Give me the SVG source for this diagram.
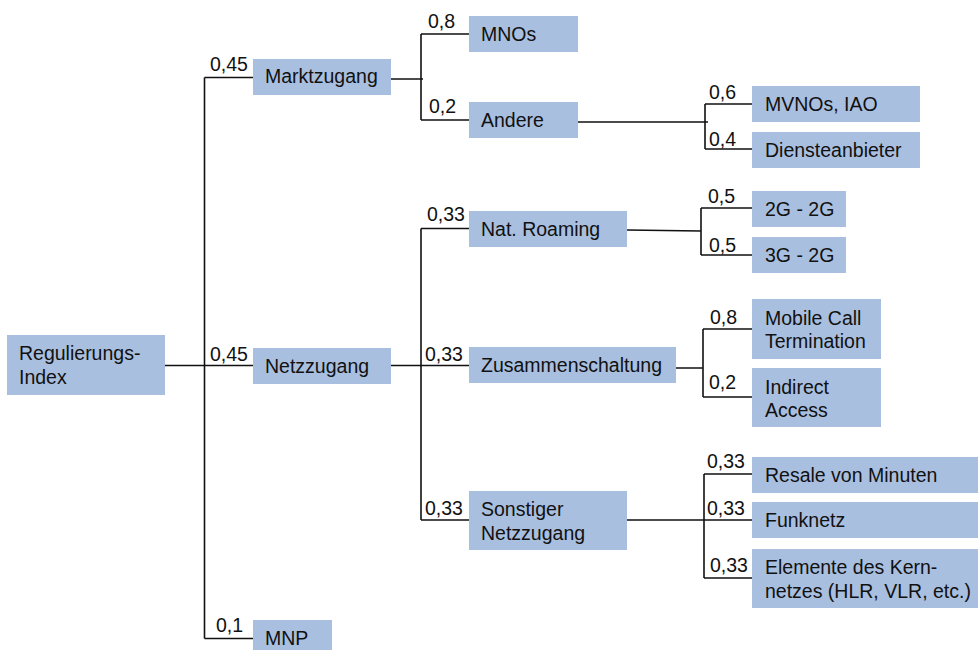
<svg xmlns="http://www.w3.org/2000/svg" width="978" height="650" viewBox="0 0 978 650">
<style>
.b{fill:#a9bfdf}
text{font-family:"Liberation Sans",Arial,sans-serif;font-size:19.5px;fill:#111}
.c{fill:none;stroke:#111;stroke-width:1.6}
</style>
<rect width="978" height="650" fill="#fff"/>
<g id="connectors" class="c">
<path d="M165,365.5H253M204.5,77.5V638.5M204.5,77.5H253M204.5,638.5H253"/>
<path d="M391,79H423M421,34V120M421,34H469M421,120H469"/>
<path d="M578,122H708M705,104V149M705,104H752M705,149H752"/>
<path d="M391,365.5H469M421,228.5V520M421,228.5H469M421,520H469"/>
<path d="M627,230L701,231M701,208V255M701,208H752M701,255H752"/>
<path d="M676,368H703M703,329V397M703,329H752M703,397H752"/>
<path d="M627,520H752M704,474V578M704,474H752M704,578H752"/>
</g>
<g id="weights">
<text x="210" y="71">0,45</text>
<text x="210" y="361">0,45</text>
<text x="216" y="632">0,1</text>
<text x="428" y="28">0,8</text>
<text x="429" y="113">0,2</text>
<text x="427" y="221">0,33</text>
<text x="425" y="361">0,33</text>
<text x="425" y="515">0,33</text>
<text x="709" y="99">0,6</text>
<text x="709" y="146">0,4</text>
<text x="708" y="203">0,5</text>
<text x="709" y="252">0,5</text>
<text x="710" y="324">0,8</text>
<text x="709" y="389">0,2</text>
<text x="707" y="468">0,33</text>
<text x="707" y="515">0,33</text>
<text x="710" y="572">0,33</text>
</g>
<g id="n-root"><rect class="b" x="7" y="335" width="158" height="60"/><text x="19" y="360">Regulierungs-</text><text x="19" y="384">Index</text></g>
<g id="n-markt"><rect class="b" x="253" y="59" width="138" height="36"/><text x="265" y="83">Marktzugang</text></g>
<g id="n-netz"><rect class="b" x="253" y="348" width="138" height="36"/><text x="265" y="373">Netzzugang</text></g>
<g id="n-mnp"><rect class="b" x="253" y="620" width="79" height="30"/><text x="265" y="645">MNP</text></g>
<g id="n-mnos"><rect class="b" x="469" y="16" width="109" height="36"/><text x="481" y="41">MNOs</text></g>
<g id="n-andere"><rect class="b" x="469" y="102" width="109" height="36"/><text x="481" y="127">Andere</text></g>
<g id="n-mvnos"><rect class="b" x="752" y="86" width="168" height="36"/><text x="765" y="111">MVNOs, IAO</text></g>
<g id="n-dienste"><rect class="b" x="752" y="132" width="168" height="36"/><text x="765" y="157">Diensteanbieter</text></g>
<g id="n-roaming"><rect class="b" x="469" y="211" width="158" height="36"/><text x="481" y="236">Nat. Roaming</text></g>
<g id="n-2g2g"><rect class="b" x="752" y="191" width="94" height="36"/><text x="765" y="216">2G - 2G</text></g>
<g id="n-3g2g"><rect class="b" x="752" y="237" width="94" height="36"/><text x="765" y="262">3G - 2G</text></g>
<g id="n-zus"><rect class="b" x="469" y="347" width="207" height="36"/><text x="481" y="372">Zusammenschaltung</text></g>
<g id="n-mct"><rect class="b" x="752" y="299" width="129" height="60"/><text x="765" y="325">Mobile Call</text><text x="765" y="348">Termination</text></g>
<g id="n-ia"><rect class="b" x="752" y="368" width="129" height="59"/><text x="765" y="394">Indirect</text><text x="765" y="417">Access</text></g>
<g id="n-sonst"><rect class="b" x="469" y="491" width="158" height="59"/><text x="481" y="516">Sonstiger</text><text x="481" y="540">Netzzugang</text></g>
<g id="n-resale"><rect class="b" x="752" y="457" width="226" height="36"/><text x="765" y="482">Resale von Minuten</text></g>
<g id="n-funk"><rect class="b" x="752" y="502" width="226" height="36"/><text x="765" y="527">Funknetz</text></g>
<g id="n-elem"><rect class="b" x="752" y="549" width="226" height="59"/><text x="765" y="574">Elemente des Kern-</text><text x="765" y="598">netzes (HLR, VLR, etc.)</text></g>
</svg>
